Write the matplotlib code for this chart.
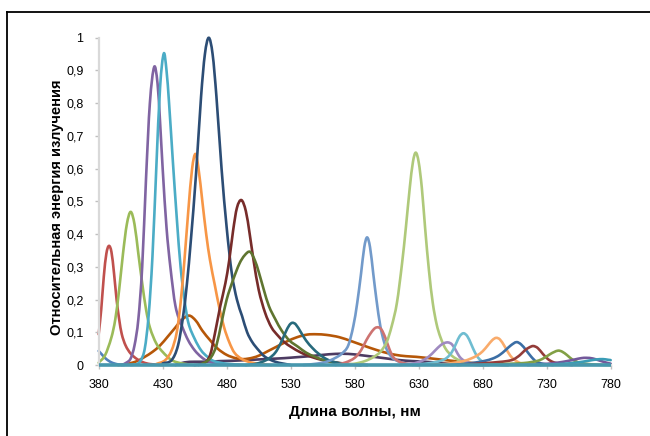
import matplotlib
matplotlib.use("Agg")
import matplotlib.pyplot as plt
from matplotlib.path import Path
from matplotlib.patches import PathPatch
from matplotlib.lines import Line2D
import numpy as np

# (wavelength nm, relative energy), one list per LED
red = [(380, .094), (382, .17), (384, .27), (386, .34), (388, .364), (390, .345), (392, .28),
       (394, .2), (396, .14), (398, .095), (401, .06), (405, .035), (410, .018), (415, .008),
       (420, .003), (430, 0)]
blue_uv = [(380, .043), (383, .03), (386, .018), (390, .008), (395, .002), (400, 0)]
green_405 = [(380, .007), (385, .03), (390, .085), (393, .14), (396, .23), (399, .34), (402, .43),
             (405, .468), (408, .43), (411, .34), (414, .25), (417, .17), (420, .115), (425, .066),
             (430, .04), (437, .015), (445, .005), (455, 0)]
purple_423 = [(398, 0), (402, .008), (405, .02), (408, .06), (411, .14), (414, .3), (417, .57),
              (420, .8), (423.4, .911), (426, .86), (428, .74), (430, .6), (433, .42), (436, .3),
              (440, .18), (445, .12), (450, .075), (455, .045), (460, .025), (465, .012),
              (475, .003), (490, 0)]
cyan_431 = [(405, 0), (410, .003), (413, .015), (416, .05), (419, .15), (422, .33), (425, .6),
            (428, .85), (430.9, .952), (433, .9), (435, .8), (438, .62), (441, .45), (444, .3),
            (447, .2), (450, .13), (455, .08), (460, .045), (465, .025), (470, .012), (480, .004),
            (495, 0)]
orange_456 = [(425, .003), (432, .015), (437, .045), (441, .1), (444, .19), (447, .32), (450, .47),
              (453, .6), (455.6, .645), (458, .6), (461, .5), (464, .4), (467, .32),
              (470.7, .245), (474, .18), (478, .115), (482, .07), (486, .038), (492, .018),
              (500, .007), (515, 0)]
navy_466 = [(430, .005), (437, .015), (442, .06), (446, .15), (449, .25), (452, .38), (456, .58),
            (460, .82), (463, .95), (466, 1.0), (469, .95), (472, .82), (476, .6), (480, .42),
            (484, .28), (488, .2), (492, .15), (496, .1), (500, .07), (505, .045), (510, .025),
            (518, .01), (530, 0)]
white_led = [(395, 0), (402, .003), (410, .012), (416, .025), (422, .04), (428, .06), (434, .087),
             (440, .115), (445, .138), (450.7, .151), (456, .135), (461, .105), (467, .076),
             (473, .05), (480, .031), (487, .021), (493, .018), (500, .022), (506, .03),
             (512, .042), (519, .056), (527, .072), (535, .085), (543, .093), (550, .094),
             (558, .092), (568, .085), (578, .072), (588, .058), (597, .046), (605, .037),
             (612, .031), (620, .027), (628, .025), (640, .02), (651, .015), (663, .01),
             (675, .005), (690, .001), (700, 0)]
maroon_492 = [(455, 0), (462, .005), (467, .03), (471, .1), (475, .18), (479, .25), (482, .32),
              (485, .41), (488, .48), (491.5, .504), (495, .47), (498, .4), (501, .32), (505, .23),
              (510, .16), (515, .115), (520, .09), (525, .07), (530, .056), (538, .038),
              (546, .025), (555, .015), (562, .01), (575, .003), (590, 0)]
olive_498 = [(458, 0), (463, .008), (468, .025), (472, .06), (476, .13), (480, .2), (485, .26),
             (490, .31), (494, .335), (498.2, .346), (502, .32), (505, .285), (509, .23),
             (513, .18), (518, .14), (523, .105), (529, .075), (536, .055), (542, .038),
             (549, .025), (556, .015), (563, .008), (575, .002), (585, 0)]
teal_531 = [(495, 0), (502, .003), (508, .01), (513, .02), (518, .038), (522, .065), (526, .1),
            (529, .122), (531.3, .129), (534, .124), (538, .1), (542, .075), (547, .052),
            (552, .034), (558, .018), (565, .008), (575, .002), (585, 0)]
plum_broad = [(440, 0), (447, .008), (455, .01), (465, .01), (475, .012), (485, .013), (495, .015),
              (505, .017), (515, .019), (525, .021), (535, .024), (545, .027), (555, .031),
              (565, .034), (575, .034), (585, .03), (595, .025), (605, .02), (615, .015),
              (625, .012), (635, .01), (645, .007), (655, .004), (665, .002), (680, 0)]
blue_590 = [(540, 0), (550, .004), (558, .01), (565, .022), (570, .035), (575, .06), (579, .12),
            (582, .19), (585, .28), (587.5, .36), (589.7, .39), (592, .36), (594.5, .28),
            (597, .2), (600, .12), (603, .07), (606, .04), (610, .02), (615, .01), (622, .003),
            (630, 0)]
rose_599 = [(565, 0), (573, .008), (580, .022), (585, .045), (589, .075), (593, .1), (596, .113),
            (598.6, .115), (601, .108), (604, .083), (607, .05), (610, .025), (614, .012),
            (620, .004), (630, 0)]
lime_628 = [(570, 0), (580, .004), (588, .012), (595, .025), (600, .04), (605, .07), (609, .12),
            (613, .19), (617, .31), (620, .42), (623, .54), (625.5, .62), (627.7, .649),
            (630, .62), (632.5, .54), (635, .42), (638, .29), (641, .19), (644, .125),
            (647, .085), (651, .05), (656, .028), (662, .014), (670, .005), (680, 0)]
lilac_653 = [(615, 0), (625, .004), (632, .012), (638, .026), (643, .045), (647, .06), (650, .067),
             (653, .069), (656, .063), (659, .045), (662, .025), (666, .012), (672, .004),
             (685, 0)]
sky_665 = [(625, 0), (635, .004), (642, .008), (648, .014), (652, .022), (656, .04),
           (659.5, .068), (662, .088), (665, .097), (668, .088), (671, .064), (674, .038),
           (677, .02), (681, .008), (688, .002), (700, 0)]
peach_691 = [(640, 0), (650, .003), (658, .007), (665, .012), (671, .02), (676, .03), (680, .042),
             (684, .06), (687.5, .076), (690.5, .083), (693.5, .078), (697, .058), (700, .038),
             (703, .022), (706, .013), (710, .005), (718, .001), (725, 0)]
blue_706 = [(655, 0), (665, .003), (675, .008), (682, .013), (688, .02), (693, .03), (698, .046),
            (702, .06), (706.4, .07), (710, .063), (714, .045), (718, .025), (722, .01),
            (727, .004), (735, 0)]
brick_720 = [(660, 0), (672, .003), (683, .006), (692, .009), (699, .012), (704, .017), (709, .03),
             (713, .045), (716.5, .054), (719.5, .058), (723, .052), (727, .034), (731, .018),
             (735, .009), (740, .004), (750, 0)]
green_739 = [(680, 0), (692, .002), (702, .004), (712, .006), (718, .009), (724, .014), (729, .024),
             (733, .034), (736, .04), (739, .044), (742, .041), (746, .03), (750, .017),
             (755, .008), (760, .004), (770, .001), (780, 0)]
violet_761 = [(715, 0), (728, .003), (738, .007), (746, .012), (752, .017), (757, .021),
              (761, .022), (766, .02), (771, .014), (776, .008), (780, .004)]
teal_774 = [(725, 0), (740, .003), (750, .006), (758, .01), (764, .014), (769, .017), (774, .018),
            (778, .016), (780, .015)]
baseline = [(380, 0), (780, 0)]

series = [
    (plum_broad, "#4D3B62"), (white_led, "#B65708"),
    (red, "#C0504D"), (blue_uv, "#4F81BD"), (green_405, "#9BBB59"), (purple_423, "#8064A2"),
    (cyan_431, "#4BACC6"), (orange_456, "#F79646"), (navy_466, "#2C4D75"),
    (maroon_492, "#772C2A"), (olive_498, "#5F7530"), (teal_531, "#276A7C"),
    (blue_590, "#729ACA"), (rose_599, "#CD7371"), (lime_628, "#AFC97A"),
    (lilac_653, "#9F8AC0"), (sky_665, "#6FBDD1"), (peach_691, "#F9AB6B"),
    (blue_706, "#3B6EA5"), (brick_720, "#943C39"), (green_739, "#82A046"),
    (violet_761, "#73589A"), (teal_774, "#3A9CB6"),
]

xticks = [380, 430, 480, 530, 580, 630, 680, 730, 780]
yticks = [0, 0.1, 0.2, 0.3, 0.4, 0.5, 0.6, 0.7, 0.8, 0.9, 1]
ylabels = ["0", "0,1", "0,2", "0,3", "0,4", "0,5", "0,6", "0,7", "0,8", "0,9", "1"]


def smooth_path(pts):
    # Excel-like smoothed line: cubic Bezier through the read points
    x = np.array([p[0] for p in pts], float)
    y = np.array([p[1] for p in pts], float)
    n = len(x)
    m = np.zeros(n)
    if n > 2:
        m[1:-1] = (y[2:] - y[:-2]) / (x[2:] - x[:-2])
    m[0] = (y[1] - y[0]) / (x[1] - x[0])
    m[-1] = (y[-1] - y[-2]) / (x[-1] - x[-2])
    verts = [(x[0], y[0])]
    codes = [Path.MOVETO]
    for i in range(n - 1):
        d = (x[i + 1] - x[i]) / 3.0
        verts += [(x[i] + d, y[i] + m[i] * d),
                  (x[i + 1] - d, y[i + 1] - m[i + 1] * d),
                  (x[i + 1], y[i + 1])]
        codes += [Path.CURVE4] * 3
    return Path(verts, codes)


fig = plt.figure(figsize=(6.5, 4.36), dpi=100)
ax = fig.add_axes([0.1518, 0.1628, 0.7877, 0.7507])

for pts, col in series:
    ax.add_patch(PathPatch(smooth_path(pts), fill=False, edgecolor=col, lw=1.9,
                           capstyle="round", joinstyle="round", clip_on=False))
# the flat zero runs of the remaining series, drawn on top as in the original
bx = [p[0] for p in baseline]
by = [p[1] for p in baseline]
ax.plot(bx, by, color="#4797AD", lw=2.6, solid_capstyle="butt", clip_on=False, zorder=3)

ax.set_xlim(380, 780)
ax.set_ylim(0, 1)
ax.set_xticks(xticks)
ax.set_xticklabels([str(t) for t in xticks])
ax.set_yticks(yticks)
ax.set_yticklabels(ylabels)

tick_font = ["Liberation Sans Narrow", "Liberation Sans", "DejaVu Sans"]
for lab in ax.get_xticklabels() + ax.get_yticklabels():
    lab.set_family(tick_font)
    lab.set_fontsize(9)
ax.tick_params(axis="both", colors="#BFBFBF", length=3, width=1, labelcolor="black")
ax.tick_params(axis="x", pad=7)
ax.tick_params(axis="y", pad=8)

for s in ["top", "right"]:
    ax.spines[s].set_visible(False)
ax.spines["left"].set_color("#D9D9D9")
ax.spines["left"].set_linewidth(1.6)
ax.spines["bottom"].set_color("#D9D9D9")
ax.spines["bottom"].set_linewidth(1.6)

ax.set_xlabel("Длина волны, нм", family=["Liberation Sans", "DejaVu Sans"],
              fontweight="bold", fontsize=11, labelpad=10)
ax.set_ylabel("Относительная энергия излучения", family=["Liberation Sans", "DejaVu Sans"],
              fontweight="bold", fontsize=10.6)
ax.yaxis.set_label_coords(-0.068, 0.481)

# outer chart frame (only left and top edges visible in the crop)
fig.add_artist(Line2D([7 / 650, 7 / 650], [0, 1 - 12 / 436], color="black", lw=1.3,
                      transform=fig.transFigure))
fig.add_artist(Line2D([7 / 650, 1], [1 - 12 / 436, 1 - 12 / 436], color="black", lw=1.3,
                      transform=fig.transFigure))

fig.savefig("out.png", dpi=100)
